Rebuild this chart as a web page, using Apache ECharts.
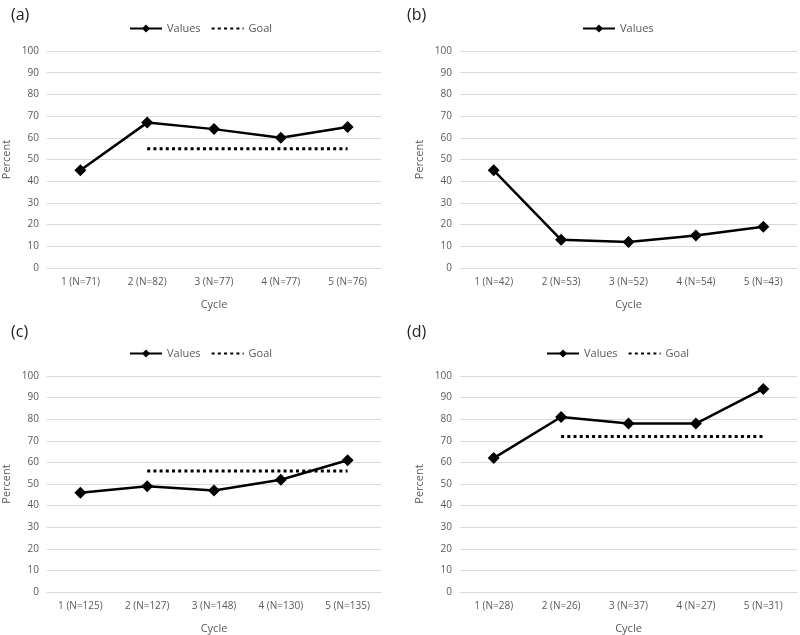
<!DOCTYPE html>
<html>
<head>
<meta charset="utf-8">
<script src="https://cdn.jsdelivr.net/npm/echarts@6/dist/echarts.min.js"></script>
<style>html,body{margin:0;padding:0;background:#fff}#c{width:800px;height:635px}</style>
</head>
<body>
<div id="c"></div>
<script>
// Data
const catsA = ['1 (N=71)', '2 (N=82)', '3 (N=77)', '4 (N=77)', '5 (N=76)'];
const valuesA = [45, 67, 64, 60, 65];
const goalA = [null, 55, 55, 55, 55];

const catsB = ['1 (N=42)', '2 (N=53)', '3 (N=52)', '4 (N=54)', '5 (N=43)'];
const valuesB = [45, 13, 12, 15, 19];

const catsC = ['1 (N=125)', '2 (N=127)', '3 (N=148)', '4 (N=130)', '5 (N=135)'];
const valuesC = [46, 49, 47, 52, 61];
const goalC = [null, 56, 56, 56, 56];

const catsD = ['1 (N=28)', '2 (N=26)', '3 (N=37)', '4 (N=27)', '5 (N=31)'];
const valuesD = [62, 81, 78, 78, 94];
const goalD = [null, 72, 72, 72, 72];

const panelLabels = ['(a)', '(b)', '(c)', '(d)'];
const yTickMax = 100, yTickStep = 10;

const FONT = 'Open Sans';
const TXT = '#595959';
const GRIDC = '#d9d9d9';

const grids = [
  {left: 44, top: 51, width: 337, height: 217},
  {left: 460, top: 51, width: 337, height: 217},
  {left: 44, top: 376, width: 337, height: 217},
  {left: 460, top: 376, width: 337, height: 217}
];
const catsAll = [catsA, catsB, catsC, catsD];

function xAxis(i) {
  return {
    type: 'category', gridIndex: i, data: catsAll[i], boundaryGap: true,
    axisLine: {show: true, lineStyle: {color: GRIDC, width: 1}},
    axisTick: {show: false},
    axisLabel: {color: TXT, fontFamily: FONT, fontSize: 10, margin: 9, interval: 0},
    name: 'Cycle', nameLocation: 'middle', nameGap: 31,
    nameTextStyle: {color: TXT, fontFamily: FONT, fontSize: 11}
  };
}
function yAxis(i) {
  return {
    type: 'value', gridIndex: i, min: 0, max: yTickMax, interval: yTickStep,
    axisLine: {show: false}, axisTick: {show: false},
    splitLine: {lineStyle: {color: GRIDC, width: 1}},
    axisLabel: {color: TXT, fontFamily: FONT, fontSize: 10, margin: 8},
    name: 'Percent', nameLocation: 'middle', nameGap: 35, nameRotate: 90,
    nameTextStyle: {color: TXT, fontFamily: FONT, fontSize: 11}
  };
}
function valSeries(i, data) {
  return {
    name: 'Values', type: 'line', xAxisIndex: i, yAxisIndex: i, data: data,
    symbol: 'diamond', symbolSize: 12, showAllSymbol: true,
    lineStyle: {color: '#000', width: 2.5},
    itemStyle: {color: '#000'},
    animation: false, z: 3
  };
}
function goalSeries(i, data) {
  return {
    name: 'Goal', type: 'line', xAxisIndex: i, yAxisIndex: i, data: data,
    symbol: 'none',
    lineStyle: {color: '#000', width: 3, type: [3, 3.2], cap: 'butt'},
    itemStyle: {color: '#000'},
    animation: false, z: 2
  };
}
const legendValues = {name: 'Values'};
const legendGoal = {name: 'Goal', itemStyle: {opacity: 0, borderWidth: 0}};
function legend(left, top, names) {
  return {
    left: left, top: top, data: names, itemWidth: 32, itemHeight: 10, itemGap: 10,
    textStyle: {color: TXT, fontFamily: FONT, fontSize: 11}, selectedMode: false
  };
}
const titlePos = [[6, 2], [402, 2], [6, 319], [402, 319]];

const option = {
  backgroundColor: '#fff',
  animation: false,
  title: panelLabels.map((t, i) => ({
    text: t, left: titlePos[i][0], top: titlePos[i][1],
    textStyle: {color: '#222', fontFamily: FONT, fontSize: 16, fontWeight: 'normal'}
  })),
  legend: [
    legend(124, 18, [legendValues, legendGoal]),
    legend(577, 18, [legendValues]),
    legend(124, 343, [legendValues, legendGoal]),
    legend(541, 343, [legendValues, legendGoal])
  ],
  grid: grids,
  xAxis: [0, 1, 2, 3].map(xAxis),
  yAxis: [0, 1, 2, 3].map(yAxis),
  series: [
    valSeries(0, valuesA), goalSeries(0, goalA),
    valSeries(1, valuesB),
    valSeries(2, valuesC), goalSeries(2, goalC),
    valSeries(3, valuesD), goalSeries(3, goalD)
  ]
};
const chart = echarts.init(document.getElementById('c'), null, {renderer: 'canvas'});
chart.setOption(option);
</script>
</body>
</html>
